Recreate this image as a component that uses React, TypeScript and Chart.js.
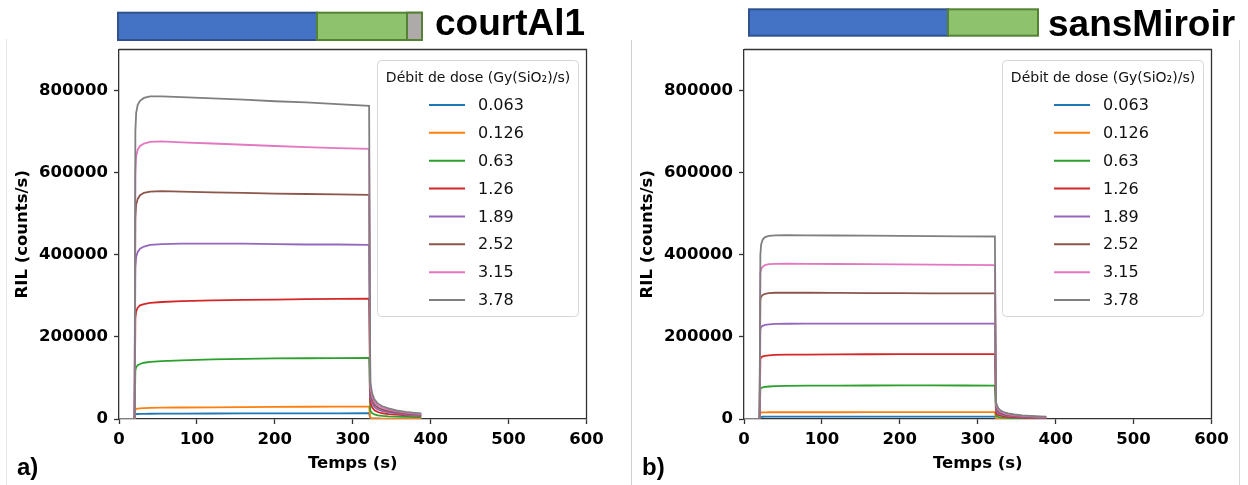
import React, { useEffect, useRef } from "react";
import { Chart, registerables } from "chart.js";

Chart.register(...registerables);

// ---------- data ----------
const doseRates = ["0.063", "0.126", "0.63", "1.26", "1.89", "2.52", "3.15", "3.78"];
const seriesColors = ["#1f77b4", "#ff7f0e", "#2ca02c", "#d62728", "#9467bd", "#8c564b", "#e377c2", "#7f7f7f"];
const xTicks = [0, 100, 200, 300, 400, 500, 600];
const yTicks = [0, 200000, 400000, 600000, 800000];
const legendTitle = "Débit de dose (Gy(SiO₂)/s)";
const xTitle = "Temps (s)";
const yTitle = "RIL (counts/s)";

// panel a) courtAl1
const timeCourt = [0, 20, 21, 22, 24, 27, 32, 40, 55, 80, 120, 160, 200, 240, 280, 321, 322.5, 325, 328, 332, 338, 346, 356, 368, 380, 388];
const court0063 = [0, 0, 11000, 11800, 12200, 12400, 12600, 12800, 13000, 13200, 13400, 13500, 13700, 13800, 13900, 14000, 1500, 1000, 800, 600, 500, 400, 350, 300, 250, 250];
const court0126 = [0, 0, 23000, 24500, 25500, 26000, 26500, 27000, 27500, 28000, 28500, 29000, 29500, 29800, 30000, 30200, 3000, 2000, 1500, 1200, 1000, 800, 700, 600, 500, 500];
const court063 = [0, 0, 118000, 126000, 131000, 134000, 137000, 139000, 141000, 143000, 145000, 146500, 147500, 148000, 148500, 149000, 20000, 14000, 11000, 9000, 7500, 6500, 5800, 5200, 4800, 4500];
const court126 = [0, 0, 245000, 262000, 271000, 277000, 280000, 283000, 285000, 287000, 289000, 290000, 291000, 292000, 292500, 293000, 40000, 28000, 21000, 17000, 14000, 12000, 10500, 9000, 8000, 7500];
const court189 = [0, 0, 370000, 395000, 407000, 415000, 420000, 424000, 426000, 427000, 427000, 427000, 426000, 425000, 425000, 424000, 55000, 38000, 29000, 23000, 19000, 16000, 13500, 11000, 9500, 9000];
const court252 = [0, 0, 490000, 522000, 536000, 545000, 551000, 554000, 555000, 554000, 552000, 551000, 549000, 548000, 547000, 546000, 66000, 46000, 35000, 28000, 23000, 19500, 16000, 13000, 11500, 10500];
const court315 = [0, 0, 600000, 640000, 656000, 665000, 671000, 675000, 676000, 674000, 671000, 668000, 665000, 662000, 660000, 658000, 78000, 54000, 41000, 33000, 27000, 23000, 19000, 15500, 13000, 12000];
const court378 = [0, 0, 700000, 745000, 765000, 775000, 782000, 786000, 786000, 784000, 781000, 778000, 774000, 771000, 767000, 763000, 90000, 62000, 47000, 38000, 31000, 26000, 21000, 17500, 15000, 13500];

// panel b) sansMiroir
const timeSans = [0, 20, 21, 22, 24, 27, 32, 40, 55, 80, 120, 160, 200, 240, 280, 322, 323.5, 326, 329, 333, 339, 347, 357, 368, 380, 388];
const sans0063 = [0, 0, 5200, 5400, 5500, 5550, 5600, 5600, 5600, 5600, 5650, 5650, 5650, 5700, 5700, 5700, 500, 350, 280, 220, 180, 150, 120, 100, 90, 80];
const sans0126 = [0, 0, 15200, 15800, 16100, 16300, 16400, 16400, 16500, 16500, 16500, 16600, 16600, 16600, 16600, 16600, 1500, 1000, 800, 650, 520, 430, 360, 300, 250, 220];
const sans063 = [0, 0, 73000, 75500, 77000, 78200, 79200, 80000, 80700, 81200, 81500, 81600, 81700, 81700, 81600, 81500, 7500, 5200, 4100, 3300, 2700, 2200, 1800, 1500, 1300, 1100];
const sans126 = [0, 0, 146000, 150000, 152500, 154000, 155200, 156000, 156600, 157000, 157400, 157700, 158000, 158100, 158200, 158200, 14500, 10000, 8000, 6400, 5200, 4300, 3600, 3000, 2500, 2200];
const sans189 = [0, 0, 218000, 224000, 227000, 229000, 230500, 231500, 232000, 232200, 232400, 232500, 232500, 232400, 232400, 232400, 21000, 14500, 11500, 9200, 7400, 6200, 5100, 4300, 3600, 3200];
const sans252 = [0, 0, 290000, 298000, 302000, 305000, 306500, 307500, 307500, 307500, 307000, 306800, 306500, 306200, 306000, 305800, 28000, 19000, 15000, 12000, 9500, 8000, 6500, 5500, 4600, 4000];
const sans315 = [0, 0, 355000, 365000, 371000, 375000, 377000, 378000, 378500, 378000, 377500, 377000, 376500, 376000, 375500, 375000, 34000, 23000, 18000, 14500, 11500, 9500, 7800, 6500, 5400, 4800];
const sans378 = [0, 0, 400000, 425000, 437000, 443000, 446000, 447500, 448000, 447500, 447000, 446500, 446000, 445500, 445000, 444500, 40000, 27000, 21000, 17000, 13500, 11000, 9000, 7500, 6200, 5500];

const courtSeries = [court0063, court0126, court063, court126, court189, court252, court315, court378];
const sansSeries = [sans0063, sans0126, sans063, sans126, sans189, sans252, sans315, sans378];

// ---------- chart ----------
const CANVAS_W = 623;
const CANVAS_H = 485;
const axisFont = { family: "DejaVu Sans", size: 16.5, weight: "bold" as const };
const spineColor = "#333333";

const framePlugin = {
  id: "frame",
  afterDatasetsDraw(chart: any) {
    const { left, right, top, bottom } = chart.chartArea;
    const ctx = chart.ctx;
    ctx.save();
    ctx.strokeStyle = spineColor;
    ctx.lineWidth = 1.3;
    ctx.beginPath();
    ctx.moveTo(left, top);
    ctx.lineTo(right, top);
    ctx.lineTo(right, bottom);
    ctx.stroke();
    ctx.restore();
  },
};

const legendPlugin = {
  id: "boxLegend",
  afterDraw(chart: any) {
    const ctx = chart.ctx;
    const bx = 377.5, by = 60.5, bw = 201, bh = 256, r = 4;
    ctx.save();
    ctx.beginPath();
    ctx.moveTo(bx + r, by);
    ctx.lineTo(bx + bw - r, by);
    ctx.quadraticCurveTo(bx + bw, by, bx + bw, by + r);
    ctx.lineTo(bx + bw, by + bh - r);
    ctx.quadraticCurveTo(bx + bw, by + bh, bx + bw - r, by + bh);
    ctx.lineTo(bx + r, by + bh);
    ctx.quadraticCurveTo(bx, by + bh, bx, by + bh - r);
    ctx.lineTo(bx, by + r);
    ctx.quadraticCurveTo(bx, by, bx + r, by);
    ctx.closePath();
    ctx.fillStyle = "rgba(255,255,255,0.8)";
    ctx.fill();
    ctx.strokeStyle = "#d6d6d6";
    ctx.lineWidth = 1;
    ctx.stroke();

    ctx.fillStyle = "#111";
    ctx.textBaseline = "middle";
    ctx.textAlign = "center";
    ctx.font = "14px DejaVu Sans";
    ctx.fillText(legendTitle, bx + bw / 2, 78);

    ctx.textAlign = "left";
    ctx.font = "16px DejaVu Sans";
    chart.data.datasets.forEach((ds: any, i: number) => {
      const y = 105 + i * 27.86;
      ctx.strokeStyle = ds.borderColor;
      ctx.lineWidth = 2;
      ctx.beginPath();
      ctx.moveTo(429, y);
      ctx.lineTo(465, y);
      ctx.stroke();
      ctx.fillStyle = "#111";
      ctx.fillText(ds.label, 478, y + 1);
    });
    ctx.restore();
  },
};

function Panel({ time, series, left }: { time: number[]; series: number[][]; left: number }) {
  const ref = useRef<HTMLCanvasElement | null>(null);
  useEffect(() => {
    if (!ref.current) return;
    const chart = new Chart(ref.current, {
      type: "line",
      data: {
        datasets: series.map((vals, i) => ({
          label: doseRates[i],
          data: vals.map((v, j) => ({ x: time[j], y: v })),
          borderColor: seriesColors[i],
          backgroundColor: seriesColors[i],
          borderWidth: 1.8,
          pointRadius: 0,
          tension: 0,
          fill: false,
          order: series.length - 1 - i,
        })),
      },
      options: {
        responsive: false,
        animation: false,
        devicePixelRatio: 1,
        events: [],
        layout: { padding: { left: 0, top: 49.5, right: CANVAS_W - 586.5, bottom: 0 } },
        plugins: {
          legend: { display: false },
          tooltip: { enabled: false },
          title: { display: false },
        },
        scales: {
          x: {
            type: "linear",
            position: "bottom",
            min: 0,
            max: 600,
            afterBuildTicks: (s: any) => {
              s.ticks = xTicks.map((v) => ({ value: v }));
            },
            afterFit: (s: any) => {
              s.height = CANVAS_H - 419;
            },
            ticks: {
              font: axisFont,
              color: "#000",
              padding: 6,
              maxRotation: 0,
              autoSkip: false,
              callback: (v: any) => String(v),
            },
            grid: { drawOnChartArea: false, drawTicks: true, tickLength: 5, color: spineColor, tickWidth: 1.3 },
            border: { display: true, color: spineColor, width: 1.3 },
            title: { display: true, text: xTitle, font: axisFont, color: "#000", padding: { top: 0, bottom: 11 } },
          },
          y: {
            type: "linear",
            position: "left",
            min: 0,
            max: 900000,
            afterBuildTicks: (s: any) => {
              s.ticks = yTicks.map((v) => ({ value: v }));
            },
            afterFit: (s: any) => {
              s.width = 119;
            },
            ticks: {
              font: axisFont,
              color: "#000",
              padding: 6,
              autoSkip: false,
              callback: (v: any) => String(v),
            },
            grid: { drawOnChartArea: false, drawTicks: true, tickLength: 5, color: spineColor, tickWidth: 1.3 },
            border: { display: true, color: spineColor, width: 1.3 },
            title: { display: true, text: yTitle, font: axisFont, color: "#000", padding: { top: 13, bottom: 0 } },
          },
        },
      } as any,
      plugins: [framePlugin, legendPlugin],
    });
    return () => chart.destroy();
  }, []);
  return (
    <canvas
      ref={ref}
      width={CANVAS_W}
      height={CANVAS_H}
      style={{ position: "absolute", left, top: 0, width: CANVAS_W, height: CANVAS_H, display: "block" }}
    />
  );
}

export default function App() {
  return (
    <div style={{ position: "absolute", left: 0, top: 0, width: 1248, height: 485, background: "#fff", overflow: "hidden" }}>
      <svg width={1248} height={485} style={{ position: "absolute", left: 0, top: 0 }}>
        <line x1={6.5} y1={39} x2={6.5} y2={485} stroke="#e6e6e6" strokeWidth={1} />
        <line x1={631.5} y1={40} x2={631.5} y2={485} stroke="#cfcfcf" strokeWidth={1} />
        <line x1={1239.5} y1={40} x2={1239.5} y2={485} stroke="#d8d8d8" strokeWidth={1} />
      </svg>
      <Panel time={timeCourt} series={courtSeries} left={0} />
      <Panel time={timeSans} series={sansSeries} left={625} />
      <svg width={1248} height={485} style={{ position: "absolute", left: 0, top: 0, pointerEvents: "none" }}>
        <rect x={118} y={12.7} width={199} height={27.3} fill="#4472c4" stroke="#2f528f" strokeWidth={2} />
        <rect x={317} y={12.7} width={105} height={27.3} fill="#8fc26c" stroke="#548235" strokeWidth={2} />
        <rect x={407} y={12.7} width={15} height={27.3} fill="#aeaaaa" stroke="#548235" strokeWidth={2} />
        <text x={435} y={35} fontFamily="Liberation Sans, Arial, sans-serif" fontWeight="bold" fontSize={37} fill="#000">
          courtAl1
        </text>
        <rect x={749} y={9.3} width={199} height={26.4} fill="#4472c4" stroke="#2f528f" strokeWidth={2} />
        <rect x={948} y={9.3} width={90} height={26.4} fill="#8fc26c" stroke="#548235" strokeWidth={2} />
        <text x={1048} y={35.5} fontFamily="Liberation Sans, Arial, sans-serif" fontWeight="bold" fontSize={37} fill="#000">
          sansMiroir
        </text>
        <text x={17} y={474.5} fontFamily="Liberation Sans, Arial, sans-serif" fontWeight="bold" fontSize={24} fill="#000">
          a)
        </text>
        <text x={642} y={474.5} fontFamily="Liberation Sans, Arial, sans-serif" fontWeight="bold" fontSize={24} fill="#000">
          b)
        </text>
      </svg>
    </div>
  );
}
